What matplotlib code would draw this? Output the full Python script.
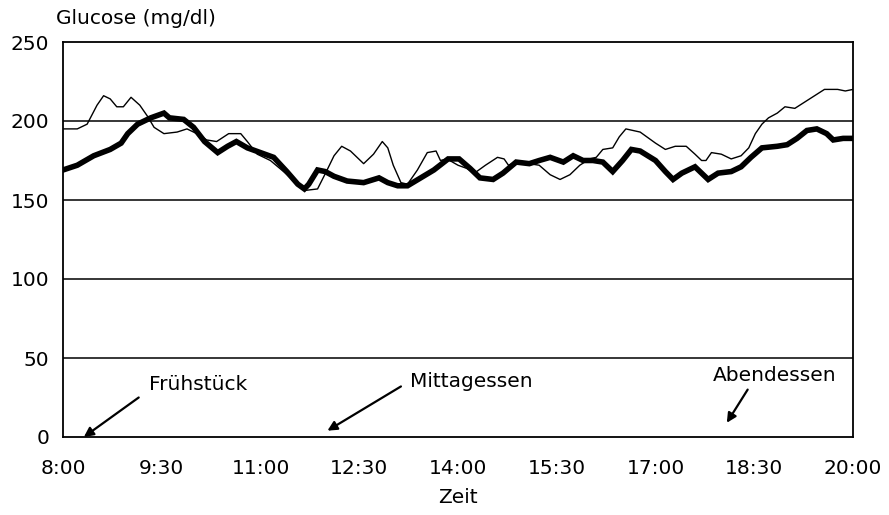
import matplotlib
matplotlib.use('Agg')
import matplotlib.pyplot as plt

# ---------------------------------------------------------------
# data
# ---------------------------------------------------------------
thick_times = ["8:00", "8:13", "8:28", "8:43", "8:53", "8:59", "9:08", "9:20", "9:32",
               "9:37", "9:50", "9:59", "10:09", "10:21", "10:30", "10:38", "10:48",
               "11:00", "11:12", "11:24", "11:34", "11:40", "11:44", "11:52", "11:59",
               "12:07", "12:19", "12:34", "12:48", "12:56", "13:05", "13:14", "13:26",
               "13:38", "13:51", "14:01", "14:11", "14:20", "14:32", "14:41", "14:53",
               "15:05", "15:14", "15:24", "15:36", "15:45", "15:54", "16:03", "16:12",
               "16:21", "16:30", "16:38", "16:46", "17:00", "17:09", "17:16", "17:24",
               "17:36", "17:42", "17:48", "17:57", "18:09", "18:18", "18:27", "18:37",
               "18:51", "19:00", "19:09", "19:18", "19:27", "19:36", "19:42", "19:51",
               "20:00"]
thick_glucose = [169, 172, 178, 182, 186, 192, 198, 202, 205,
                 202, 201, 196, 187, 180, 184, 187, 183,
                 180, 177, 168, 160, 157, 160, 169, 168,
                 165, 162, 161, 164, 161, 159, 159, 164,
                 169, 176, 176, 170, 164, 163, 167, 174,
                 173, 175, 177, 174, 178, 175, 175, 174,
                 168, 175, 182, 181, 175, 168, 163, 167,
                 171, 167, 163, 167, 168, 171, 177, 183,
                 184, 185, 189, 194, 195, 192, 188, 189,
                 189]

thin_times = ["8:00", "8:13", "8:22", "8:31", "8:37", "8:43", "8:49", "8:55", "9:02",
              "9:10", "9:17", "9:23", "9:32", "9:44", "9:53", "10:02", "10:11", "10:20",
              "10:31", "10:42", "10:48", "10:57", "11:09", "11:21", "11:34", "11:40",
              "11:52", "12:00", "12:07", "12:14", "12:22", "12:34", "12:43", "12:51",
              "12:56", "13:01", "13:08", "13:14", "13:23", "13:32", "13:40", "13:44",
              "13:50", "14:00", "14:08", "14:15", "14:25", "14:36", "14:42", "14:46",
              "14:53", "15:05", "15:14", "15:24", "15:33", "15:42", "15:51", "16:00",
              "16:06", "16:12", "16:21", "16:27", "16:33", "16:46", "16:50", "17:00",
              "17:09", "17:18", "17:28", "17:36", "17:42", "17:46", "17:51", "18:00",
              "18:09", "18:18", "18:25", "18:31", "18:37", "18:43", "18:51", "18:58",
              "19:07", "19:16", "19:25", "19:34", "19:46", "19:53", "20:00"]
thin_glucose = [195, 195, 198, 210, 216, 214, 209, 209, 215,
                210, 203, 196, 192, 193, 195, 192, 188, 187,
                192, 192, 187, 179, 175, 168, 160, 156,
                157, 168, 178, 184, 181, 173, 179, 187,
                183, 172, 161, 160, 169, 180, 181, 175,
                176, 172, 170, 167, 172, 177, 176, 172,
                174, 173, 172, 166, 163, 166, 172, 176,
                177, 182, 183, 190, 195, 193, 191, 186,
                182, 184, 184, 179, 175, 175, 180, 179,
                176, 178, 183, 192, 198, 202, 205, 209,
                208, 212, 216, 220, 220, 219, 220]

tick_labels = ["8:00", "9:30", "11:00", "12:30", "14:00", "15:30", "17:00", "18:30", "20:00"]
y_ticks = [0, 50, 100, 150, 200, 250]
grid_levels = [50, 100, 150, 200]

# meals: label, text position (time, mg/dl), arrow tail, arrow head
meal_labels = ["Frühstück", "Mittagessen", "Abendessen"]
meal_text_pos = [("9:18", 33), ("13:16", 35), ("17:52", 39)]
meal_arrow_tail = [("9:09", 25), ("13:08", 32), ("18:24", 30)]
meal_arrow_head = [("8:19", 0), ("12:01", 4), ("18:05", 9)]


def to_hours(s):
    h, m = s.split(':')
    return int(h) + int(m) / 60.0


plt.rcParams['font.family'] = ['DejaVu Sans']

fig = plt.figure(figsize=(8.89, 5.15), dpi=100)
ax = fig.add_axes([63 / 889, 1 - 437 / 515, 790 / 889, 395 / 515])

for lvl in grid_levels:
    ax.axhline(lvl, color='black', linewidth=1.1, zorder=1)

ax.plot([to_hours(t) for t in thin_times], thin_glucose,
        color='black', linewidth=1.0, zorder=2)
ax.plot([to_hours(t) for t in thick_times], thick_glucose,
        color='black', linewidth=4.0, solid_joinstyle='miter', zorder=3)

for label, tpos, tail, head in zip(meal_labels, meal_text_pos,
                                   meal_arrow_tail, meal_arrow_head):
    ax.text(to_hours(tpos[0]), tpos[1], label, fontsize=14.5,
            ha='left', va='center', zorder=4)
    ax.annotate('', xy=(to_hours(head[0]), head[1]),
                xytext=(to_hours(tail[0]), tail[1]),
                arrowprops=dict(arrowstyle='-|>', color='black', lw=1.6,
                                mutation_scale=14, shrinkA=0, shrinkB=0),
                zorder=4)

ax.set_xlim(8, 20)
ax.set_ylim(0, 250)
ax.set_xticks([to_hours(t) for t in tick_labels])
ax.set_xticklabels(tick_labels)
ax.set_yticks(y_ticks)
ax.tick_params(length=0, labelsize=14.5)
ax.tick_params(axis='x', pad=16)
ax.tick_params(axis='y', pad=10)
for sp in ax.spines.values():
    sp.set_linewidth(1.3)
    sp.set_color('black')

ax.set_xlabel('Zeit', fontsize=14.5, labelpad=7)
fig.text(56 / 889, 1 - 18 / 515, 'Glucose (mg/dl)', fontsize=14.5,
         ha='left', va='center')

fig.savefig('out.png', dpi=100)
